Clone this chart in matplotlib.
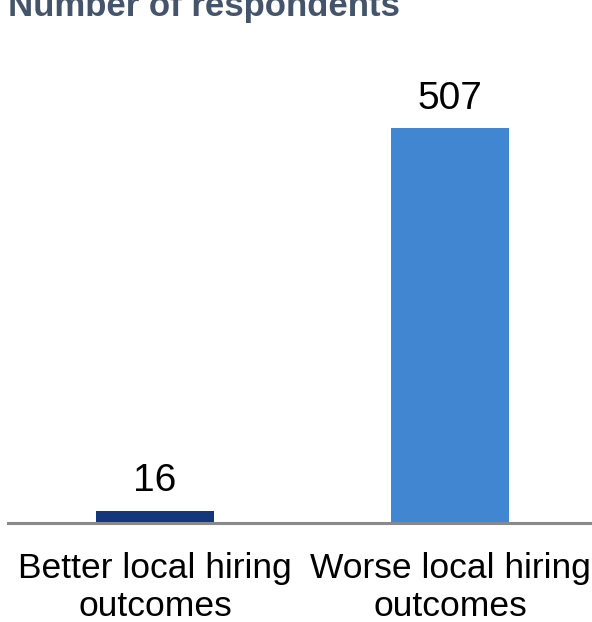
import matplotlib
matplotlib.use("Agg")
import matplotlib.pyplot as plt

plt.rcParams['font.family'] = ['Liberation Sans', 'DejaVu Sans']

# data
categories = ["Better local hiring\noutcomes", "Worse local hiring\noutcomes"]
counts = [16, 507]
bar_colors = ["#14367A", "#4186D0"]
title = "Number of respondents"

fig = plt.figure(figsize=(5.92, 6.22), dpi=100)
# axes: baseline at y=523px, left edge at x=7.5px
ax = fig.add_axes([7.5 / 592, 99 / 622, 1 - 7.5 / 592, (523 - 40) / 622])

x = list(range(len(categories)))
ax.bar(x, counts, width=0.4, color=bar_colors, zorder=2)

# y scale: 507 -> 395 px above baseline
ax.set_ylim(0, 507 * (483 / 395))
ax.set_xlim(-0.5, 1.481)

for xi, v in zip(x, counts):
    ax.annotate(str(v), (xi, v), xytext=(0, 8), textcoords="offset points",
                ha="center", va="bottom", fontsize=28, color="black")

ax.set_xticks(x)
ax.set_xticklabels(categories, fontsize=25.5, linespacing=1.2)
ax.tick_params(axis="x", length=0, pad=21)
ax.set_yticks([])

for s in ["top", "right", "left"]:
    ax.spines[s].set_visible(False)
ax.spines["bottom"].set_color("#898989")
ax.spines["bottom"].set_linewidth(2.2)

fig.text(8 / 592, 1 - 16 / 622, title, fontsize=25, fontweight="bold",
         color="#44546A", ha="left", va="baseline")

fig.savefig("out.png", dpi=100)
